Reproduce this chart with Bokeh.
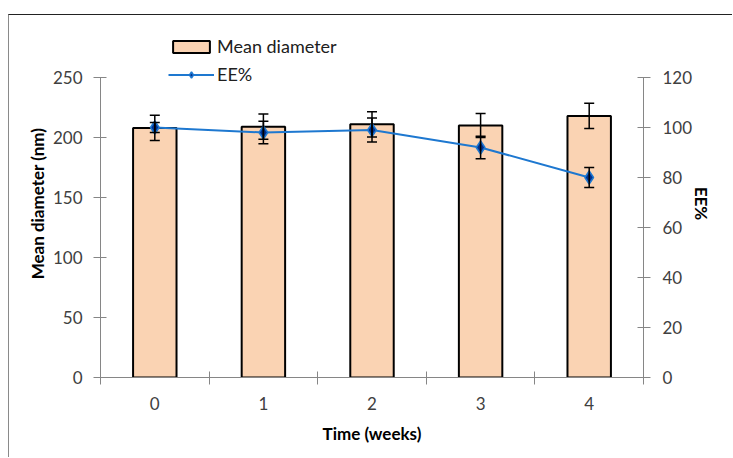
from bokeh.plotting import figure
from bokeh.models import (Range1d, LinearAxis, FixedTicker, Whisker, TeeHead,
                          ColumnDataSource, Legend, LegendItem)
from bokeh.embed import file_html
from bokeh.resources import INLINE

# ---- data ----
weeks = [0, 1, 2, 3, 4]
week_labels = ["0", "1", "2", "3", "4"]
mean_diameter = [208, 209, 211, 210, 218]
diameter_err = [10.5, 10.5, 10.5, 10, 10.5]
ee_percent = [100, 98, 99, 92, 80]
ee_err = [2, 4.5, 4.8, 4.5, 4]
diam_ticks = [0, 50, 100, 150, 200, 250]
ee_ticks = [0, 20, 40, 60, 80, 100, 120]

FONT = "Lato"
TICK_COLOR = "#404040"
AXIS_COLOR = "#868686"

# visible axis extents; the plotting frame extends above them to hold the legend
D_MAX, E_MAX = 250, 120
HEADROOM = 1.16

src = ColumnDataSource(dict(
    x=weeks, d=mean_diameter,
    d_lo=[v - e for v, e in zip(mean_diameter, diameter_err)],
    d_hi=[v + e for v, e in zip(mean_diameter, diameter_err)],
    ee=ee_percent,
    ee_lo=[v - e for v, e in zip(ee_percent, ee_err)],
    ee_hi=[v + e for v, e in zip(ee_percent, ee_err)],
))

p = figure(width=724, height=443, output_backend="svg", toolbar_location=None,
           x_range=Range1d(-0.5, 4.5), y_range=Range1d(0, D_MAX * HEADROOM),
           min_border_left=91, min_border_right=90, min_border_top=14,
           min_border_bottom=81)
p.styles = {"position": "relative", "left": "8px", "top": "14px",
            "border-left": "1px solid #8a8a8a", "border-top": "1.5px solid #222222"}
p.outline_line_color = None
p.xgrid.visible = False
p.ygrid.visible = False
p.background_fill_color = "white"
p.border_fill_color = "white"

p.extra_y_ranges = {"ee": Range1d(0, E_MAX * HEADROOM)}

def style_axis(ax):
    ax.axis_line_color = AXIS_COLOR
    ax.major_tick_line_color = AXIS_COLOR
    ax.minor_tick_line_color = AXIS_COLOR
    ax.major_label_text_font = FONT
    ax.major_label_text_font_size = "17px"
    ax.major_label_text_color = TICK_COLOR
    ax.axis_label_text_font = FONT
    ax.axis_label_text_font_size = "17px"
    ax.axis_label_text_font_style = "bold"
    ax.axis_label_text_color = "black"

xa = p.xaxis[0]
style_axis(xa)
xa.ticker = FixedTicker(ticks=weeks, minor_ticks=[w - 0.5 for w in weeks] + [weeks[-1] + 0.5])
xa.major_label_overrides = {w: l for w, l in zip(weeks, week_labels)}
xa.major_tick_in = 0
xa.major_tick_out = 0
xa.minor_tick_in = 6
xa.minor_tick_out = 7
xa.major_label_standoff = 12
xa.axis_label = "Time (weeks)"
xa.axis_label_standoff = 10

ya = p.yaxis[0]
style_axis(ya)
ya.ticker = FixedTicker(ticks=diam_ticks)
ya.bounds = (0, D_MAX)
ya.minor_tick_line_color = None
ya.major_tick_in = 6
ya.major_tick_out = 7
ya.major_label_standoff = 11
ya.axis_label = "Mean diameter (nm)"
ya.axis_label_standoff = 2

ra = LinearAxis(y_range_name="ee", ticker=FixedTicker(ticks=ee_ticks), bounds=(0, E_MAX))
style_axis(ra)
ra.minor_tick_line_color = None
ra.major_tick_in = 6
ra.major_tick_out = 7
ra.major_label_standoff = 12
ra.axis_label = "EE%"
ra.axis_label_standoff = -4
p.add_layout(ra, "right")

bars = p.vbar(x="x", top="d", width=0.4, source=src, fill_color="#FAD3B3",
              line_color="black", line_width=2)

def head():
    return TeeHead(size=10, line_color="black", line_width=1.5)

wd = Whisker(base="x", lower="d_lo", upper="d_hi", source=src, level="annotation",
             line_color="black", line_width=1.5, upper_head=head(), lower_head=head())
p.add_layout(wd)

we = Whisker(base="x", lower="ee_lo", upper="ee_hi", source=src, y_range_name="ee",
             level="annotation",
             line_color="black", line_width=1.5, upper_head=head(), lower_head=head())
p.add_layout(we)

ln = p.line(x="x", y="ee", source=src, y_range_name="ee", line_color="#1E78D0", line_width=2)
mk = p.scatter(x="x", y="ee", source=src, y_range_name="ee", marker="diamond", size=13,
               fill_color="#00308F", line_color="#1E78D0", line_width=1.5)

legend = Legend(items=[LegendItem(label="Mean diameter", renderers=[bars]),
                       LegendItem(label="EE%", renderers=[ln, mk])],
                location=(68, 292))
legend.padding = 0
legend.margin = 0
legend.spacing = 6
legend.glyph_width = 46
legend.glyph_height = 15
legend.label_height = 20
legend.label_standoff = 3
legend.label_text_font = FONT
legend.label_text_font_size = "18px"
legend.label_text_color = "#202020"
legend.background_fill_alpha = 0
legend.border_line_alpha = 0
p.add_layout(legend, "center")

open("out.html", "w").write(file_html(p, INLINE))
